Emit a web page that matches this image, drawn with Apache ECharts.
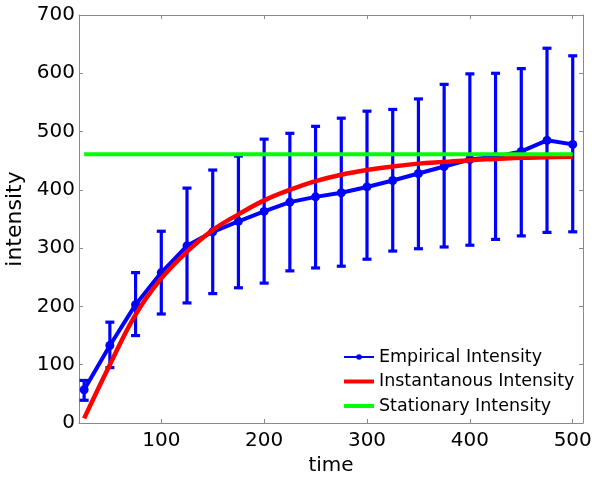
<!DOCTYPE html>
<html>
<head>
<meta charset="utf-8">
<script src="https://cdn.jsdelivr.net/npm/echarts@6/dist/echarts.min.js"></script>
<style>html,body{margin:0;padding:0;background:#fff;}#c{width:600px;height:480px;}</style>
</head>
<body>
<div id="c"></div>
<script>
const times = [25,50,75,100,125,150,175,200,225,250,275,300,325,350,375,400,425,450,475,500];
const empMean = [57,133,203,258,304,328,346,363,379,388,395,405,416,428,440,452,457,466,485,478];
const empLow  = [39,95,150,187,206,222,232,240,261,266,269,281,295,299,302,305,315,321,327,328];
const empHigh = [73,173,258,329,403,434,458,487,497,509,523,535,538,556,581,599,600,608,643,630];
const instVals = [8,100,186,248,294,331,358,382,400,415,426,434,440,445,448,451,453,455,456,457];
const statTimes = [25,500];
const statVals = [461,461];
const xTicks = [100,200,300,400,500];
const seriesNames = ['Empirical Intensity','Instantanous Intensity','Stationary Intensity'];

const FONT = 'DejaVu Sans';
const axisColor = '#8a8a8a';
const lineIcon = 'path://M0,0 L30,0 L30,4 L0,4 Z';
const chart = echarts.init(document.getElementById('c'), null, {renderer:'canvas'});

const errData = times.map((t,i)=>[t, empLow[i], empHigh[i]]);

chart.setOption({
  animation:false,
  backgroundColor:'#fff',
  grid:{left:79, right:17, top:15, bottom:57, containLabel:false, outerBoundsMode:'none'},
  legend:{
    data:[
      {name:seriesNames[0]},
      {name:seriesNames[1], icon:lineIcon},
      {name:seriesNames[2], icon:lineIcon}
    ],
    orient:'vertical', left:343, top:347, padding:0,
    itemWidth:30, itemHeight:7, itemGap:4.5,
    textStyle:{fontFamily:FONT, fontSize:17.5, color:'#000', lineHeight:20}
  },
  xAxis:[{
    type:'value', min:20, max:510, position:'bottom',
    name:'time', nameLocation:'middle', nameGap:18,
    nameTextStyle:{fontFamily:FONT, fontSize:20, color:'#000'},
    axisLine:{show:true, onZero:false, lineStyle:{color:axisColor, width:1}},
    axisTick:{show:true, inside:true, length:4, customValues:xTicks, lineStyle:{color:axisColor}},
    axisLabel:{show:true, customValues:xTicks, margin:8, fontFamily:FONT, fontSize:20, color:'#000'},
    splitLine:{show:false}
  },{
    type:'value', min:20, max:510, position:'top',
    axisLine:{show:true, onZero:false, lineStyle:{color:axisColor, width:1}},
    axisTick:{show:true, inside:true, length:4, customValues:xTicks, lineStyle:{color:axisColor}},
    axisLabel:{show:false},
    splitLine:{show:false}
  }],
  yAxis:[{
    type:'value', min:0, max:700, interval:100, position:'left',
    name:'intensity', nameLocation:'middle', nameGap:48,
    nameTextStyle:{fontFamily:FONT, fontSize:22, color:'#000'},
    axisLine:{show:true, onZero:false, lineStyle:{color:axisColor, width:1}},
    axisTick:{show:true, inside:true, length:4, lineStyle:{color:axisColor}},
    axisLabel:{show:true, margin:4, fontFamily:FONT, fontSize:20, color:'#000'},
    splitLine:{show:false}
  },{
    type:'value', min:0, max:700, interval:100, position:'right',
    axisLine:{show:true, onZero:false, lineStyle:{color:axisColor, width:1}},
    axisTick:{show:true, inside:true, length:4, lineStyle:{color:axisColor}},
    axisLabel:{show:false},
    splitLine:{show:false}
  }],
  series:[
    {
      type:'custom', name:'errorbars', xAxisIndex:0, yAxisIndex:0, z:1,
      data:errData,
      encode:{x:0, y:[1,2]},
      renderItem:function(params, api){
        const x = api.value(0);
        const pLo = api.coord([x, api.value(1)]);
        const pHi = api.coord([x, api.value(2)]);
        const hw = 4.5;
        const st = {stroke:'#0000ff', lineWidth:3.2};
        return {type:'group', children:[
          {type:'line', shape:{x1:pLo[0], y1:pLo[1], x2:pHi[0], y2:pHi[1]}, style:st},
          {type:'line', shape:{x1:pLo[0]-hw, y1:pLo[1], x2:pLo[0]+hw, y2:pLo[1]}, style:st},
          {type:'line', shape:{x1:pHi[0]-hw, y1:pHi[1], x2:pHi[0]+hw, y2:pHi[1]}, style:st}
        ]};
      }
    },
    {
      type:'line', name:seriesNames[0], z:2,
      data:times.map((t,i)=>[t, empMean[i]]),
      symbol:'circle', symbolSize:9,
      lineStyle:{color:'#0000ff', width:4},
      itemStyle:{color:'#0000ff'}
    },
    {
      type:'line', name:seriesNames[1], z:3,
      data:times.map((t,i)=>[t, instVals[i]]),
      smooth:0.4, symbol:'none', showSymbol:false,
      lineStyle:{color:'#ff0000', width:4.5},
      itemStyle:{color:'#ff0000'}
    },
    {
      type:'line', name:seriesNames[2], z:4,
      data:statTimes.map((t,i)=>[t, statVals[i]]),
      symbol:'none', showSymbol:false,
      lineStyle:{color:'#00ff00', width:4},
      itemStyle:{color:'#00ff00'}
    }
  ]
});
</script>
</body>
</html>
